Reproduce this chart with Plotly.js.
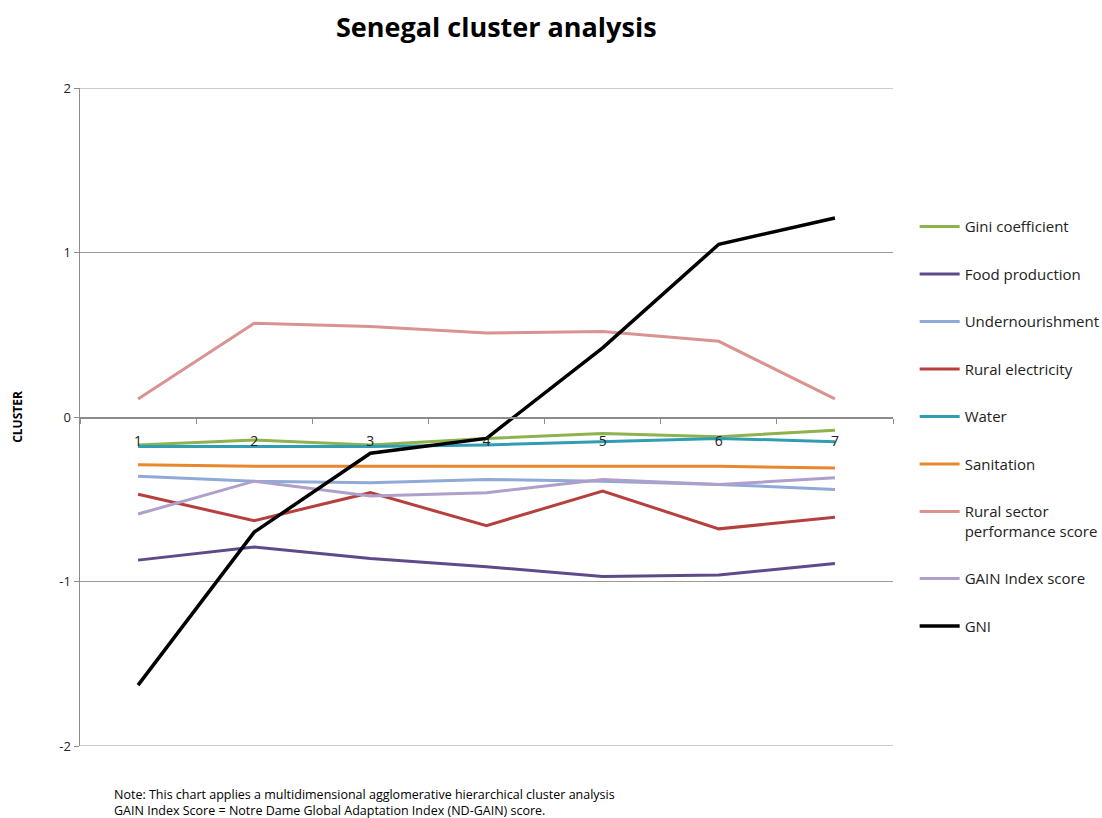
<!DOCTYPE html>
<html>
<head>
<meta charset="utf-8">
<script src="https://cdn.plot.ly/plotly-3.0.1.min.js"></script>
<style>html,body{margin:0;padding:0;background:#fff;}#chart{width:1102px;height:818px;}</style>
</head>
<body>
<div id="chart"></div>
<script>
const clusters = ['1', '2', '3', '4', '5', '6', '7'];
const seriesNames = ['Gini coefficient', 'Food production', 'Undernourishment', 'Rural electricity', 'Water', 'Sanitation', 'Rural sector<br>performance score', 'GAIN Index score', 'GNI'];
const gini = [-0.17, -0.14, -0.17, -0.13, -0.10, -0.12, -0.08];
const foodProduction = [-0.87, -0.79, -0.86, -0.91, -0.97, -0.96, -0.89];
const undernourishment = [-0.36, -0.39, -0.40, -0.38, -0.39, -0.41, -0.44];
const ruralElectricity = [-0.47, -0.63, -0.46, -0.66, -0.45, -0.68, -0.61];
const water = [-0.18, -0.18, -0.18, -0.17, -0.15, -0.13, -0.15];
const sanitation = [-0.29, -0.30, -0.30, -0.30, -0.30, -0.30, -0.31];
const ruralSector = [0.11, 0.57, 0.55, 0.51, 0.52, 0.46, 0.11];
const gainIndex = [-0.59, -0.39, -0.48, -0.46, -0.38, -0.41, -0.37];
const gni = [-1.63, -0.70, -0.22, -0.13, 0.42, 1.05, 1.21];
const yTicks = [-2, -1, 0, 1, 2];
const yRange = [-2, 2];

const seriesValues = [gini, foodProduction, undernourishment, ruralElectricity, water, sanitation, ruralSector, gainIndex, gni];
const colors = ['#8DB24E', '#5E4A8A', '#8FAAD8', '#B5403E', '#2F9DB4', '#E8872D', '#D99391', '#AE9FCB', '#000000'];
const widths = [3, 3, 3, 3, 3, 3, 3, 3, 3.5];

const traces = seriesValues.map((vals, i) => ({
  type: 'scatter',
  mode: 'lines',
  x: clusters,
  y: vals,
  name: seriesNames[i],
  legendgroup: 'g' + i,
  line: {color: colors[i], width: widths[i]},
  hoverinfo: 'skip'
}));

// gridlines at the range ends (Plotly skips grid lines on the plot edges)
const edgeGrid = yRange.map(v => ({
  type: 'line', xref: 'paper', yref: 'y', x0: 0, x1: 1, y0: v, y1: v,
  line: {color: '#9a9a9a', width: 1}, layer: 'below'
}));

const layout = {
  width: 1102,
  height: 818,
  paper_bgcolor: '#fff',
  plot_bgcolor: '#fff',
  margin: {l: 80, r: 209, t: 88, b: 72},
  showlegend: true,
  title: {
    text: '<b>Senegal cluster analysis</b>',
    font: {family: 'Open Sans, sans-serif', size: 27, color: '#000'},
    x: 0.512, xanchor: 'center', xref: 'paper',
    y: 0.966, yanchor: 'middle'
  },
  xaxis: {
    type: 'category',
    range: [-0.5, 6.5],
    anchor: 'free',
    position: 0.5,
    showgrid: false,
    zeroline: false,
    showline: true,
    linecolor: '#8c8c8c',
    linewidth: 1.5,
    ticks: 'outside',
    tickson: 'boundaries',
    ticklen: 5,
    tickcolor: '#8c8c8c',
    ticklabelstandoff: 11,
    tickfont: {family: 'Open Sans, sans-serif', size: 14, color: '#222'}
  },
  yaxis: {
    range: yRange,
    tickvals: yTicks,
    ticktext: yTicks.map(String),
    showgrid: true,
    gridcolor: '#9a9a9a',
    gridwidth: 1,
    zeroline: false,
    showline: true,
    linecolor: '#8c8c8c',
    linewidth: 1.5,
    ticks: 'outside',
    ticklen: 5,
    tickcolor: '#8c8c8c',
    tickfont: {family: 'Open Sans, sans-serif', size: 13, color: '#222'},
    title: {text: '<b>CLUSTER</b>', font: {family: 'Open Sans, sans-serif', size: 12, color: '#000'}, standoff: 34}
  },
  shapes: edgeGrid,
  legend: {
    xref: 'container', yref: 'container',
    x: 0.830, xanchor: 'left',
    y: 0.743, yanchor: 'top',
    maxheight: 600,
    traceorder: 'grouped',
    tracegroupgap: 25,
    valign: 'top',
    itemwidth: 40,
    font: {family: 'Open Sans, sans-serif', size: 15, color: '#222'},
    bgcolor: 'rgba(0,0,0,0)'
  },
  annotations: [
    {
      text: 'Note: This chart applies a multidimensional agglomerative hierarchical cluster analysis<br>GAIN Index Score = Notre Dame Global Adaptation Index (ND-GAIN) score.',
      xref: 'paper', yref: 'paper',
      x: 0.039, y: -0.057, xanchor: 'left', yanchor: 'top',
      align: 'left', showarrow: false,
      font: {family: 'Open Sans, sans-serif', size: 12.5, color: '#000'}
    }
  ]
};

Plotly.newPlot('chart', traces, layout, {displayModeBar: false, staticPlot: true});
</script>
</body>
</html>
